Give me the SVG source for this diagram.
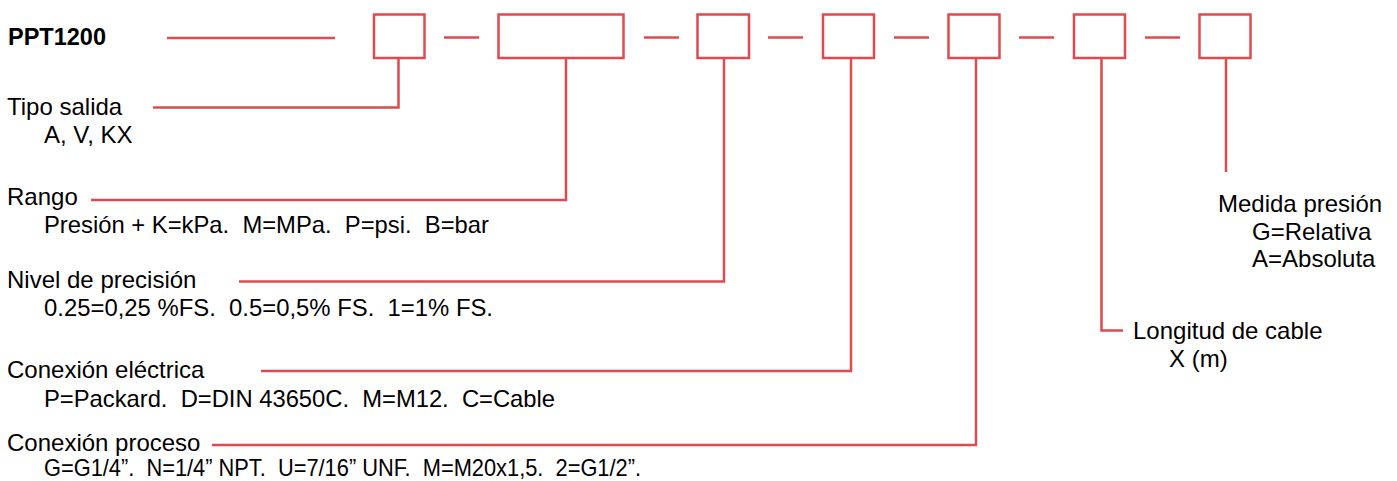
<svg xmlns="http://www.w3.org/2000/svg" width="1397" height="481" viewBox="0 0 1397 481">
<style>
.box{fill:#fff;stroke:#e0494f;stroke-width:2.5}
.ln{fill:none;stroke:#e0494f;stroke-width:2.5}
text{font-family:"Liberation Sans",Arial,sans-serif;font-size:24px;fill:#000;white-space:pre}
.title{font-weight:bold;font-size:23.5px}
</style>
<rect width="1397" height="481" fill="#fff"/>
<g id="connectors">
<path class="ln" d="M167,38H335"/>
<path class="ln" d="M444,37.5H479M644,37.5H679M768,37.5H803M894,37.5H929M1019,37.5H1054M1145,37.5H1180"/>
<path class="ln" d="M398.5,58V107.5H153"/>
<path class="ln" d="M566,58V200H91"/>
<path class="ln" d="M724,58V281.5H239"/>
<path class="ln" d="M851,58V371H261"/>
<path class="ln" d="M976,58V445H212"/>
<path class="ln" d="M1101.5,58V330.5H1123"/>
<path class="ln" d="M1226,58V172"/>
</g>
<g id="title"><text class="title" x="8" y="45">PPT1200</text></g>
<g id="box-tipo-salida"><rect class="box" x="374" y="14.5" width="50.5" height="43.5"/></g>
<g id="box-rango"><rect class="box" x="498.5" y="14.5" width="125" height="43.5"/></g>
<g id="box-precision"><rect class="box" x="697.5" y="14.5" width="51.5" height="43.5"/></g>
<g id="box-conexion-electrica"><rect class="box" x="823" y="14.5" width="51" height="43.5"/></g>
<g id="box-conexion-proceso"><rect class="box" x="948.5" y="14.5" width="51" height="43.5"/></g>
<g id="box-longitud-cable"><rect class="box" x="1074" y="14.5" width="51" height="43.5"/></g>
<g id="box-medida-presion"><rect class="box" x="1199.5" y="14.5" width="51" height="43.5"/></g>
<g id="label-tipo-salida">
<text x="7" y="115">Tipo salida</text>
<text x="44" y="143">A, V, KX</text>
</g>
<g id="label-rango">
<text x="7" y="205">Rango</text>
<text x="44" y="233" xml:space="preserve" textLength="445" lengthAdjust="spacingAndGlyphs">Presión + K=kPa.  M=MPa.  P=psi.  B=bar</text>
</g>
<g id="label-precision">
<text x="7" y="288">Nivel de precisión</text>
<text x="44" y="316" xml:space="preserve" textLength="449" lengthAdjust="spacingAndGlyphs">0.25=0,25 %FS.  0.5=0,5% FS.  1=1% FS.</text>
</g>
<g id="label-conexion-electrica">
<text x="7" y="378">Conexión eléctrica</text>
<text x="44" y="407" xml:space="preserve" textLength="511" lengthAdjust="spacingAndGlyphs">P=Packard.  D=DIN 43650C.  M=M12.  C=Cable</text>
</g>
<g id="label-conexion-proceso">
<text x="7" y="451">Conexión proceso</text>
<text x="44" y="476" xml:space="preserve" textLength="597" lengthAdjust="spacingAndGlyphs">G=G1/4”.  N=1/4” NPT.  U=7/16” UNF.  M=M20x1,5.  2=G1/2”.</text>
</g>
<g id="label-longitud-cable">
<text x="1133" y="339">Longitud de cable</text>
<text x="1169" y="367">X (m)</text>
</g>
<g id="label-medida-presion">
<text x="1218" y="212">Medida presión</text>
<text x="1252" y="240">G=Relativa</text>
<text x="1252" y="267">A=Absoluta</text>
</g>
</svg>
